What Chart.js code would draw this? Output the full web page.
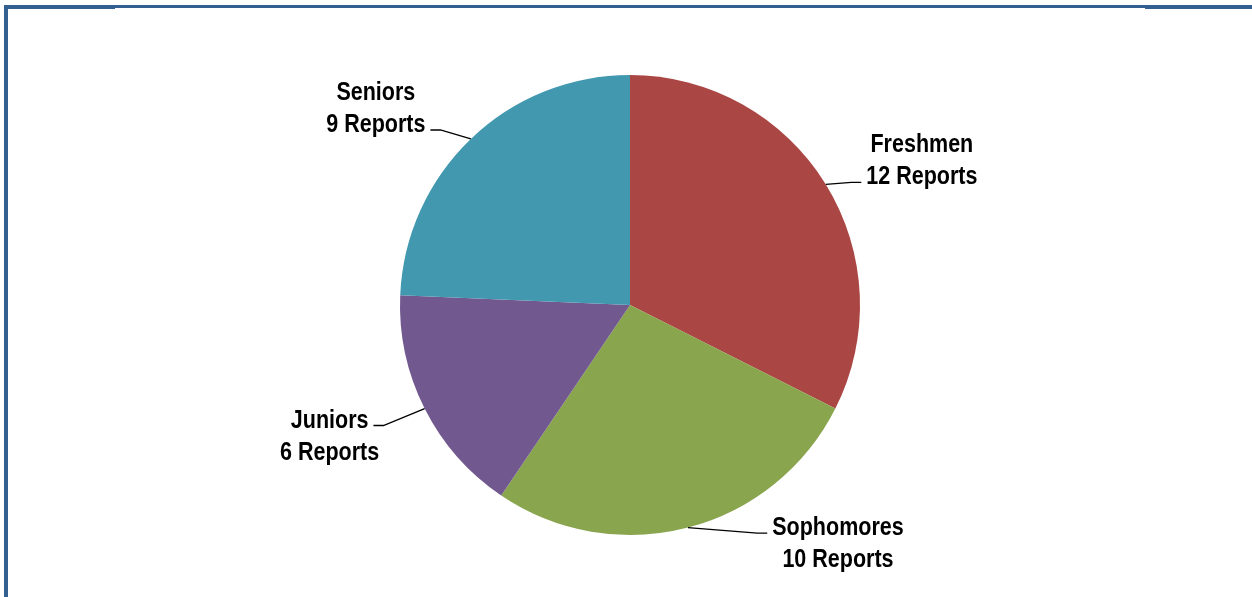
<!DOCTYPE html>
<html>
<head>
<meta charset="utf-8">
<script src="https://cdn.jsdelivr.net/npm/chart.js@4.4.1/dist/chart.umd.min.js"></script>
<style>
  body { margin: 0; background: #fff; }
  #wrap { position: relative; width: 1252px; height: 597px; overflow: hidden; }
  .ln { position: absolute; background: #335f91; }
  canvas { position: absolute; left: 0; top: 0; }
</style>
</head>
<body>
<div id="wrap">
  <canvas id="myChart" width="1252" height="597"></canvas>
  <div class="ln" style="left:4px;top:5px;width:4px;height:592px"></div>
  <div class="ln" style="left:4px;top:5px;width:1248px;height:3px"></div>
  <div class="ln" style="left:4px;top:8px;width:111px;height:1px"></div>
  <div class="ln" style="left:1145px;top:8px;width:107px;height:1px"></div>
</div>
<script>
var classes = ["Freshmen", "Sophomores", "Juniors", "Seniors"]
var reports = [12, 10, 6, 9]
var sliceColor = ["#aa4643", "#89a54e", "#71588f", "#4198af"]

// where each label block sits relative to the middle of its slice edge,
// and which of its two lines the leader line meets
var labelShift = [[96, -25], [150, 14.5], [-95, 26], [-95, -32]]
var leaderLine = [1, 0, 0, 1]

var squeeze = 0.86  // labels are a tall narrow bold face

var outsideLabels = {
  id: "outsideLabels",
  afterDraw: function(chart) {
    var ctx = chart.ctx
    var arcs = chart.getDatasetMeta(0).data
    ctx.save()
    ctx.font = "bold 25px 'Liberation Sans', Arial, sans-serif"
    ctx.textAlign = "center"
    ctx.textBaseline = "alphabetic"
    ctx.fillStyle = "#000"
    ctx.strokeStyle = "#000"
    ctx.lineWidth = 1.4
    arcs.forEach(function(arc, i) {
      var p = arc.getProps(["x", "y", "startAngle", "endAngle", "outerRadius"])
      var mid = (p.startAngle + p.endAngle) / 2
      var ax = p.x + Math.cos(mid) * p.outerRadius
      var ay = p.y + Math.sin(mid) * p.outerRadius
      var cx = ax + labelShift[i][0]
      var cy = ay + labelShift[i][1]
      var lines = [classes[i], reports[i] + " Reports"]
      var lineY = [cy - 16, cy + 16]
      lines.forEach(function(t, k) {
        ctx.save()
        ctx.translate(cx, lineY[k] + 9)
        ctx.scale(squeeze, 1)
        ctx.fillText(t, 0, 0)
        ctx.restore()
      })

      var k = leaderLine[i]
      var w = ctx.measureText(lines[k]).width * squeeze
      var side = labelShift[i][0] > 0 ? -1 : 1
      var ex = cx + side * (w / 2 + 5)
      var ey = lineY[k] + 7
      ctx.beginPath()
      ctx.moveTo(ex, ey)
      ctx.lineTo(ex + side * 10, ey)
      ctx.lineTo(ax, ay)
      ctx.stroke()
    })
    ctx.restore()
  }
}

new Chart("myChart", {
  type: "pie",
  data: {
    labels: classes,
    datasets: [{
      data: reports,
      backgroundColor: sliceColor,
      borderWidth: 0
    }]
  },
  options: {
    responsive: false,
    devicePixelRatio: 1,
    animation: false,
    layout: {padding: {top: 75, bottom: 62, left: 8, right: 0}},
    plugins: {
      legend: {display: false},
      tooltip: {enabled: false}
    }
  },
  plugins: [outsideLabels]
});
</script>
</body>
</html>
